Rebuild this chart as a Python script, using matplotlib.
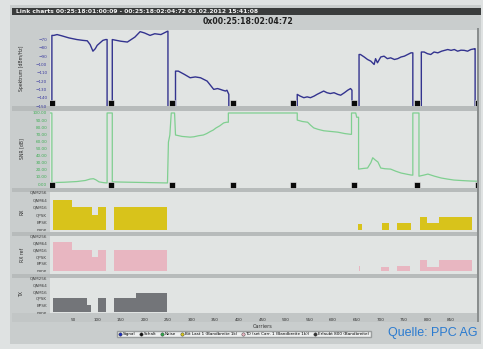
import matplotlib
matplotlib.use("Agg")
import matplotlib.pyplot as plt
from matplotlib.patches import Rectangle
from matplotlib.lines import Line2D

# ---------------- data ----------------
# transmit spectrum per carrier (dBm/Hz); -160 marks carriers without signal
spec_carrier = [4, 4, 8, 15, 25, 40, 57, 70, 79, 85, 91, 96, 100, 106, 112, 118, 121, 121,
                132, 132, 150, 164, 180, 191, 200, 212, 222, 235, 249, 250, 250,
                266, 266, 272, 285, 297, 308, 319, 333, 347, 355, 361, 366, 372, 375, 379, 379,
                524, 524, 530, 538, 545, 552, 560, 566, 573, 580, 587, 594, 602, 610, 616, 624, 631, 637, 640, 640,
                655, 655, 658, 666, 673, 680, 687, 690, 694, 701, 708, 715, 722, 730, 737, 744, 751, 758, 765, 769, 769,
                787, 787, 793, 800, 807, 814, 822, 830, 843, 850, 857, 864, 871, 878, 885, 892, 899, 901, 901]
spec_dbm = [-160, -65, -65, -64, -65.5, -68, -70, -71, -71.5, -76, -84, -81, -77, -74, -71, -70, -70, -160,
            -160, -70, -72, -73, -67, -60.5, -62, -65, -63, -64, -60, -60, -160,
            -160, -108, -108, -112, -116, -115, -116, -120, -130, -129, -130, -131, -132, -131, -136, -160,
            -160, -136, -138, -140, -139, -140, -138, -136, -134, -132, -134, -135, -134, -136, -137, -134, -131, -129, -131, -160,
            -160, -88, -88, -91, -94, -96, -100, -93, -98, -91, -90, -93, -92, -94, -93, -91, -90, -88, -86, -86, -160,
            -160, -85, -85, -87, -88, -85, -86, -84, -82, -83, -82, -84, -82.8, -83, -84, -82, -81.2, -81, -160]

# signal-to-noise ratio per carrier (dB); 100 marks unused carriers
snr_carrier = [0, 4, 4, 30, 57, 75, 85, 92, 97, 104, 113, 121, 121, 132, 132, 170, 210, 249, 251, 254, 257, 264, 266,
               280, 297, 305, 315, 325, 332, 340, 346, 352, 360, 368, 374, 378, 378, 524, 524, 535, 546, 552, 559,
               568, 580, 595, 610, 625, 637, 639, 639, 648, 650, 654, 654,
               665, 673, 680, 684, 689, 695, 701, 710, 722, 733, 744, 755, 765, 769, 769, 782, 782,
               792, 801, 815, 829, 842, 856, 875, 892, 905]
snr_db = [100, 100, 2, 2.5, 3.5, 5, 7, 7.5, 6, 3, 2, 1.5, 100, 100, 3, 2.5, 2, 1.5, 59, 69, 100, 100, 69,
          67, 66, 66.5, 68, 69, 71, 74, 76, 79, 82, 86, 87, 87, 100, 100, 90, 88, 87, 83, 79,
          77, 75, 74, 73, 71, 70, 70, 100, 100, 94, 94, 21,
          22, 22.5, 30, 37, 34, 31, 22.5, 21.5, 21, 18, 15.5, 14, 12.7, 12.5, 100, 100, 11,
          12.5, 14, 11, 8.5, 7, 5.6, 4.8, 4.2, 4]

# band-edge markers (carrier index)
band_marks = [4, 130, 258, 387, 516, 645, 778, 907]

# bit loading blocks: start carrier, end carrier, modulation level
rx_start = [6, 47, 89, 102, 136, 653, 704, 735, 784, 799, 824]
rx_end = [47, 89, 102, 119, 249, 661, 718, 765, 799, 824, 894]
rx_level = [4, 3, 2, 3, 3, 0.8, 0.85, 0.85, 1.65, 0.85, 1.65]

rxref_start = [6, 47, 89, 102, 136, 655, 701, 735, 784, 799, 824]
rxref_end = [47, 89, 102, 119, 249, 657, 718, 764, 799, 824, 894]
rxref_level = [4.1, 3, 2, 3, 3, 0.6, 0.5, 0.6, 1.6, 0.5, 1.6]

tx_start = [6, 79, 102, 136, 183]
tx_end = [79, 87, 119, 183, 247]
tx_level = [2, 1, 2, 2, 2.8]

mod_labels = ["none", "BPSK", "QPSK", "QAM16", "QAM64", "QAM256"]
spec_ticks = [-70, -80, -90, -100, -110, -120, -130, -140, -150]
snr_ticks = [0, 10, 20, 30, 40, 50, 60, 70, 80, 90, 100]
carrier_ticks = [50, 100, 150, 200, 250, 300, 350, 400, 450, 500, 550, 600, 650, 700, 750, 800, 850]

legend_labels = ["Signal", "Schalt", "Noise", "Bit Last 1 (Bandbreite 1k)",
                 "TO (set Carr. 1 (Bandbreite 1k))", "Erlaubt 800 (Bandbreite)"]
legend_colors = ["#1c2fbf", "#111111", "#2fa84a", "#d6c51c", "#e6b4bf", "#333333"]

# ---------------- layout helpers ----------------
W, H = 483, 349
fig = plt.figure(figsize=(W / 100, H / 100), dpi=100)
fig.patch.set_facecolor("#dfe2e2")


def fbox(x0, y0, x1, y1):
    return [x0 / W, 1 - y1 / H, (x1 - x0) / W, (y1 - y0) / H]


def rect(x0, y0, x1, y1, color, z=-5):
    fig.add_artist(Rectangle((x0 / W, 1 - y1 / H), (x1 - x0) / W, (y1 - y0) / H,
                             transform=fig.transFigure, facecolor=color,
                             edgecolor="none", zorder=z))


SCREEN = "#c9cdcd"
PANEL = "#e1e4e3"
SEP = "#b7bbbb"

rect(10, 5, 481, 344, SCREEN)
rect(12, 8, 481, 15, "#3a3c3c", z=-4)
for (a, b) in [(106, 111), (188, 192), (232, 236), (274, 278)]:
    rect(12, a, 478, b, SEP, z=-4)
rect(12, 313, 478, 322, "#c2c6c6", z=-4)
rect(477, 28, 478.5, 322, "#8a8e8e", z=3)

fig.text(16 / W, 1 - 11.5 / H,
         "Link charts 00:25:18:01:00:09 - 00:25:18:02:04:72 03.02.2012 15:41:08",
         color="#f2f2f2", fontsize=4.3, fontweight="bold", va="center", ha="left")
fig.text(248 / W, 1 - 22 / H, "0x00:25:18:02:04:72", color="#202020",
         fontsize=5.6, fontweight="bold", va="center", ha="center")

XMAX = 905


def style(ax, color):
    ax.set_facecolor(PANEL)
    ax.set_xlim(0, XMAX)
    for s in ax.spines.values():
        s.set_visible(False)
    ax.tick_params(length=0, labelsize=3.0, labelcolor=color, pad=2)
    ax.set_xticks([])


# spectrum panel
ax1 = fig.add_axes(fbox(50, 30, 477, 106))
style(ax1, "#3a3aa0")
ax1.set_ylim(-150, -58.5)
ax1.set_yticks(spec_ticks)
for t in ax1.get_yticklabels():
    t.set_clip_on(False)
ax1.plot(spec_carrier, spec_dbm, color="#33338f", lw=1.0)
ax1.plot(band_marks, [0.045] * len(band_marks), ls="none", marker="s", ms=5,
         mfc="#0a0a0a", mec="#f4f4f4", mew=0.4, transform=ax1.get_xaxis_transform(), clip_on=True)

# SNR panel
ax2 = fig.add_axes(fbox(50, 111, 477, 188))
style(ax2, "#3fae55")
ax2.set_ylim(-5.6, 102.8)
ax2.set_yticks(snr_ticks)
ax2.set_yticklabels([f"{v:.2f}" for v in snr_ticks])
ax2.plot(snr_carrier, snr_db, color="#7fcf90", lw=0.9)
ax2.plot(band_marks, [0.045] * len(band_marks), ls="none", marker="s", ms=5,
         mfc="#0a0a0a", mec="#f4f4f4", mew=0.4, transform=ax2.get_xaxis_transform(), clip_on=True)

# bit loading panels
bit_panels = [
    (fbox(50, 192, 477, 232), (-0.32, 4.87), rx_start, rx_end, rx_level, "#d8c31b"),
    (fbox(50, 236, 477, 274), (-0.49, 4.86), rxref_start, rxref_end, rxref_level, "#e8b6c1"),
    (fbox(50, 278, 477, 313), (-0.14, 4.69), tx_start, tx_end, tx_level, "#737579"),
]
bit_axes = []
for box, ylim, st, en, lv, col in bit_panels:
    ax = fig.add_axes(box)
    style(ax, "#404040")
    ax.set_ylim(*ylim)
    ax.set_yticks(range(len(mod_labels)))
    ax.set_yticklabels(mod_labels)
    for t in ax.get_yticklabels():
        t.set_clip_on(False)
    widths = [e - s for s, e in zip(st, en)]
    ax.bar(st, lv, width=widths, align="edge", color=col, linewidth=0)
    bit_axes.append(ax)

ax5 = bit_axes[-1]
ax5.set_xticks(carrier_ticks)
ax5.set_xticklabels([str(c) for c in carrier_ticks])
ax5.tick_params(axis="x", labelsize=3.0, labelcolor="#303030", pad=3.5)

# axis titles in the left column
for y, txt in [(68, "Spektrum [dBm/Hz]"), (149, "SNR [dB]"), (212, "RX"),
               (255, "RX ref"), (294, "TX")]:
    fig.text(22 / W, 1 - y / H, txt, rotation=90, fontsize=3.3, color="#303030",
             ha="center", va="center")
fig.text(263 / W, 1 - 326 / H, "Carriers", fontsize=3.6, color="#303030",
         ha="center", va="center")

handles = [Line2D([], [], ls="none", marker="o", ms=2.4, mfc=c, mec="#333333", mew=0.3)
           for c in legend_colors]
fig.legend(handles, legend_labels, loc="center", bbox_to_anchor=(244 / W, 1 - 334 / H),
           ncol=6, fontsize=3.0, frameon=True, facecolor="#eef0f0", edgecolor="#9a9e9e",
           handlelength=0.7, handletextpad=0.3, columnspacing=1.0, borderpad=0.35,
           fancybox=True, framealpha=1)

fig.text(478 / W, 1 - 333 / H, "Quelle: PPC AG", color="#2b7bd0", fontsize=9,
         family="Liberation Sans", ha="right", va="center")

fig.savefig("out.png", dpi=100, facecolor=fig.get_facecolor())
